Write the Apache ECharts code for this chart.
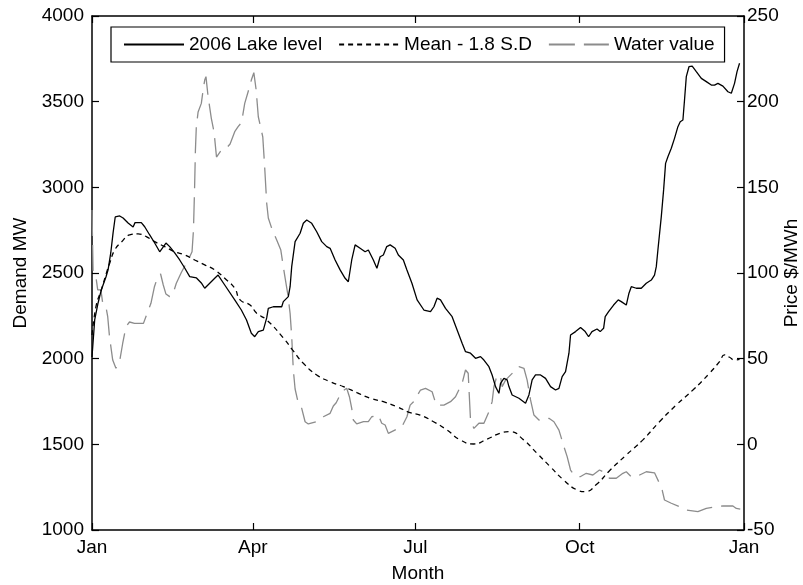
<!DOCTYPE html>
<html>
<head>
<meta charset="utf-8">
<script src="https://cdn.jsdelivr.net/npm/echarts@6/dist/echarts.min.js"></script>
<style>
  html, body { margin: 0; padding: 0; background: #fff; }
  #chart { width: 803px; height: 585px; }
</style>
</head>
<body>
<div id="chart"></div>
<script>
// Month ticks (day of year, 2006) and their labels
const monthTicks = [0, 90, 181, 273, 365];
const monthLabels = ['Jan', 'Apr', 'Jul', 'Oct', 'Jan'];

// 2006 lake level (left axis, MW equivalent)
const lakeDays = [0, 1.5, 3.4, 5.2, 7.8, 9.0, 10.5, 11.8, 13.0, 15.5, 17.4, 20.2, 23.0, 24.1, 27.6, 29.5,
  32.3, 35.1, 37.9, 41.4, 43.5, 46.3, 49.1, 51.9, 54.7, 58.5, 61.2, 63.1, 65.9, 68.7, 70.6, 74.3,
  79.9, 83.6, 86.5, 89.2, 91.1, 93.1, 95.9, 97.8, 98.7, 101.5, 106.2, 107.1, 109.9, 110.9, 111.8,
  113.7, 116.5, 118.3, 120.2, 123.0, 125.8, 128.6, 131.4, 133.3, 136.1, 138.9, 141.7, 143.5, 145.4,
  147.3, 150.1, 152.9, 154.7, 157.5, 159.5, 161.3, 163.1, 165.0, 166.9, 169.7, 171.5, 174.3, 176.3,
  179.1, 182.0, 185.8, 189.5, 191.4, 193.2, 195.1, 197.9, 201.6, 204.4, 207.2, 209.1, 211.9, 214.7,
  217.5, 219.4, 222.2, 224.0, 225.9, 227.8, 228.7, 230.6, 232.4, 233.4, 235.2, 239.0, 242.7, 244.6,
  246.4, 248.3, 251.1, 253.9, 256.7, 259.5, 261.4, 263.2, 265.1, 267.0, 267.9, 270.7, 273.5, 276.1,
  278.0, 279.9, 282.7, 284.5, 286.4, 287.3, 289.2, 292.0, 294.6, 296.3, 299.1, 300.6, 301.9, 304.7,
  307.5, 310.3, 313.1, 314.9, 315.9, 316.8, 318.7, 320.0, 321.1, 322.4, 324.3, 326.1, 328.0, 329.3,
  330.8, 331.7, 332.7, 334.2, 336.0, 338.3, 341.1, 343.9, 346.7, 348.5, 350.4, 353.2, 356.0, 357.9,
  359.7, 361.1, 362.5];
const lakeLevel = [2010, 2226, 2325, 2401, 2477, 2518, 2617, 2734, 2827, 2833, 2821, 2792, 2769, 2794, 2794, 2770,
  2722, 2675, 2624, 2675, 2654, 2617, 2576, 2529, 2479, 2471, 2442, 2411, 2440, 2469, 2488, 2430,
  2343, 2284, 2226, 2148, 2128, 2158, 2167, 2238, 2294, 2303, 2303, 2333, 2362, 2420, 2537,
  2683, 2732, 2790, 2809, 2790, 2741, 2683, 2654, 2644, 2576, 2518, 2469, 2449, 2576,
  2664, 2644, 2624, 2634, 2576, 2528, 2595, 2605, 2654, 2664, 2644, 2605, 2576, 2518,
  2440, 2343, 2284, 2274, 2303, 2353, 2343, 2294, 2245, 2167, 2090, 2041, 2032, 2002,
  2012, 1992, 1953, 1905, 1837, 1798, 1856, 1885, 1876, 1837, 1788, 1769, 1740, 1788,
  1876, 1905, 1905, 1885, 1837, 1817, 1827, 1895, 1924, 2032, 2138, 2158, 2182, 2158,
  2128, 2158, 2173, 2158, 2177, 2245, 2274, 2313, 2343, 2333, 2313, 2382, 2420, 2411,
  2411, 2440, 2459, 2488, 2537, 2634, 2829, 2985, 3140, 3179, 3228, 3286, 3354, 3383,
  3393, 3510, 3646, 3704, 3708, 3675, 3636, 3617, 3597, 3597, 3607, 3591, 3558, 3549,
  3607, 3675, 3724];

// Mean - 1.8 S.D (left axis)
const meanDays = [0, 2.4, 5.2, 8.0, 9.9, 12.7, 16.5, 21.1, 25.8, 30.4, 35.1, 40.7, 46.3, 51.9, 57.5, 63.1,
  68.7, 74.3, 79.9, 82.9, 88.5, 92.2, 97.8, 107.1, 112.7, 118.3, 125.8, 133.3, 140.7, 148.3, 155.7,
  163.1, 170.7, 178.1, 183.7, 191.2, 198.7, 206.1, 213.6, 221.1, 228.5, 234.1, 241.6, 249.1, 256.5,
  264.0, 271.5, 276.1, 282.7, 290.1, 299.1, 308.4, 317.7, 327.1, 336.4, 345.7, 351.3, 354.1, 356.9,
  359.7, 362.5];
const meanLevel = [2138, 2313, 2401, 2498, 2557, 2634, 2681, 2722, 2728, 2712, 2683, 2654, 2624, 2605, 2576, 2547,
  2518, 2469, 2411, 2343, 2313, 2265, 2226, 2121, 2045, 1973, 1905, 1866, 1837, 1802, 1769,
  1749, 1720, 1685, 1671, 1632, 1584, 1526, 1502, 1530, 1565, 1574, 1526, 1448, 1370,
  1292, 1234, 1224, 1269, 1350, 1438, 1526, 1632, 1730, 1817, 1915, 1983, 2022, 2008,
  1992, 1996];

// Water value (right axis, $/MWh)
const waterDays = [0, 0.6, 2.2, 3.2, 5.0, 6.0, 7.8, 8.8, 9.8, 11.6, 13.4, 15.4, 17.2, 19.0, 21.0, 23.8, 28.8,
  31.0, 33.0, 34.9, 36.8, 38.4, 39.9, 41.4, 43.5, 45.4, 47.2, 50.0, 52.8, 54.7, 56.0, 56.8, 57.4,
  57.9, 58.4, 59.4, 61.2, 62.2, 63.1, 63.8, 65.0, 66.8, 68.3, 69.7, 72.5, 75.2, 77.3, 79.9, 81.8,
  83.7, 85.5, 87.4, 89.2, 90.6, 91.9, 93.1, 95.6, 96.6, 97.8, 98.7, 100.6, 103.4, 105.7, 106.8,
  108.1, 109.5, 110.9, 111.8, 112.7, 113.7, 115.5, 117.4, 119.3, 121.1, 125.8, 129.5, 133.3, 135.1,
  136.7, 139.8, 142.6, 144.1, 145.4, 146.3, 148.2, 152.0, 154.7, 156.6, 160.3, 162.2, 164.1, 165.9,
  173.5, 176.3, 178.1, 180.0, 183.9, 186.7, 190.4, 192.7, 197.0, 200.7, 203.5, 207.2, 209.1, 210.6,
  211.9, 213.8, 216.6, 219.4, 222.2, 224.0, 225.0, 226.8, 228.7, 229.6, 231.5, 233.4, 239.0, 241.8,
  243.6, 245.5, 247.4, 250.2, 253.9, 255.8, 258.6, 261.4, 264.2, 266.0, 267.9, 270.0, 273.3, 276.7,
  280.4, 284.1, 286.0, 289.7, 293.5, 297.2, 299.1, 301.9, 304.7, 310.3, 314.9, 317.7, 319.2, 320.5,
  324.3, 328.9, 332.7, 339.2, 343.9, 349.5, 353.2, 358.8, 360.7, 362.9];
const waterValue = [136.8, 101.7, 97.7, 90.1, 90.1, 82.3, 80.3, 74.5, 62.8, 49.2, 44.4, 48.0, 59.0, 68.6, 71.4, 70.6, 70.6,
  76.9, 82.3, 91.8, 97.8, 99.4, 93.0, 87.7, 86.2, 88.1, 94.0, 100.3, 105.7, 109.5, 112.4, 125.1, 148.4,
  171.8, 185.4, 194.0, 199.0, 206.8, 212.6, 214.6, 202.9, 190.3, 182.5, 167.7, 171.8, 172.8, 175.3, 182.5, 185.4,
  187.8, 199.0, 205.8, 212.6, 216.9, 206.8, 191.2, 179.5, 163.0, 140.7, 132.1, 126.1, 119.3, 113.4, 105.7,
  97.1, 88.3, 76.5, 62.8, 43.4, 32.3, 23.9, 21.0, 13.2, 11.9, 13.2, 16.1, 18.1, 22.4,
  24.3, 30.7, 32.7, 27.8, 21.0, 14.2, 11.9, 13.2, 13.2, 16.1, 17.1, 12.3, 11.3, 6.4,
  10.3, 16.1, 22.9, 24.9, 31.7, 32.7, 30.7, 22.9, 22.9, 24.9, 27.8, 35.6, 43.4, 41.5,
  14.2, 9.3, 12.3, 12.3, 19.0, 24.9, 33.6, 40.5, 39.5, 33.6, 37.5, 39.5, 45.3, 44.4,
  37.5, 25.9, 17.1, 14.2, 14.2, 15.2, 13.2, 8.3, -1.4, -7.2, -15.0, -18.2, -18.9, -16.9,
  -17.9, -15.0, -16.0, -19.8, -19.8, -16.9, -16.0, -18.9, -18.9, -16.0, -16.6, -22.8, -26.7, -32.5,
  -34.4, -36.4, -38.3, -39.3, -37.4, -36.4, -36.0, -36.0, -37.4, -37.8];

const zip = (xs, ys) => xs.map((x, i) => [x, ys[i]]);

const FONT = '"Liberation Sans", Arial, sans-serif';
const FS = 19;

const chart = echarts.init(document.getElementById('chart'), null, { renderer: 'canvas' });

const axisLine = { show: true, onZero: false, lineStyle: { color: '#000', width: 1.5 } };
const tick = { show: true, inside: true, length: 7, lineStyle: { color: '#000', width: 1.2 } };
const plain = (v) => String(v);

chart.setOption({
  animation: false,
  backgroundColor: '#fff',
  textStyle: { fontFamily: FONT, color: '#000' },
  grid: {
    left: 92, right: 59, top: 16, bottom: 55,
    containLabel: false, outerBoundsMode: 'none'
  },
  legend: {
    left: 111, top: 27,
    orient: 'horizontal',
    backgroundColor: '#fff',
    borderColor: '#000', borderWidth: 1.2, borderRadius: 0,
    padding: [8, 10, 8, 12],
    itemWidth: 60, itemHeight: 20, itemGap: 16,
    itemStyle: { opacity: 0 },
    textStyle: { fontFamily: FONT, fontSize: FS, color: '#000' },
    data: ['2006 Lake level', 'Mean - 1.8 S.D', 'Water value']
  },
  xAxis: [
    {
      type: 'value', min: 0, max: 365, position: 'bottom',
      name: 'Month', nameLocation: 'middle', nameGap: 34,
      nameTextStyle: { fontFamily: FONT, fontSize: FS, color: '#000' },
      axisLine: axisLine,
      axisTick: Object.assign({ customValues: monthTicks }, tick),
      axisLabel: {
        customValues: monthTicks, margin: 8,
        fontFamily: FONT, fontSize: FS, color: '#000',
        formatter: (v) => monthLabels[monthTicks.indexOf(Math.round(v))] || ''
      },
      splitLine: { show: false }
    },
    {
      type: 'value', min: 0, max: 365, position: 'top',
      axisLine: axisLine,
      axisTick: Object.assign({ customValues: monthTicks }, tick),
      axisLabel: { show: false },
      splitLine: { show: false }
    }
  ],
  yAxis: [
    {
      type: 'value', min: 1000, max: 4000, interval: 500, position: 'left',
      name: 'Demand MW', nameLocation: 'middle', nameGap: 62, nameRotate: 90,
      nameTextStyle: { fontFamily: FONT, fontSize: FS, color: '#000' },
      axisLine: axisLine, axisTick: tick,
      axisLabel: { margin: 8, fontFamily: FONT, fontSize: FS, color: '#000', formatter: plain },
      splitLine: { show: false }
    },
    {
      type: 'value', min: -50, max: 250, interval: 50, position: 'right',
      name: 'Price $/MWh', nameLocation: 'middle', nameGap: 38, nameRotate: 90,
      nameMoveOverlap: false,
      nameTextStyle: { fontFamily: FONT, fontSize: FS, color: '#000' },
      axisLine: axisLine, axisTick: tick,
      axisLabel: { margin: 3, fontFamily: FONT, fontSize: FS, color: '#000', formatter: plain },
      splitLine: { show: false }
    }
  ],
  series: [
    {
      name: '2006 Lake level', type: 'line', xAxisIndex: 0, yAxisIndex: 0,
      data: zip(lakeDays, lakeLevel), symbol: 'none', smooth: false,
      lineStyle: { color: '#000', width: 1.3, type: 'solid' },
      itemStyle: { color: '#000' }, z: 4
    },
    {
      name: 'Mean - 1.8 S.D', type: 'line', xAxisIndex: 0, yAxisIndex: 0,
      data: zip(meanDays, meanLevel), symbol: 'none', smooth: true,
      lineStyle: { color: '#000', width: 1.3, type: [5, 4] },
      itemStyle: { color: '#000' }, z: 3
    },
    {
      name: 'Water value', type: 'line', xAxisIndex: 0, yAxisIndex: 1,
      data: zip(waterDays, waterValue), symbol: 'none', smooth: false,
      lineStyle: { color: '#8c8c8c', width: 1.3, type: [26, 9] },
      itemStyle: { color: '#8c8c8c' }, z: 2
    }
  ]
});
</script>
</body>
</html>
